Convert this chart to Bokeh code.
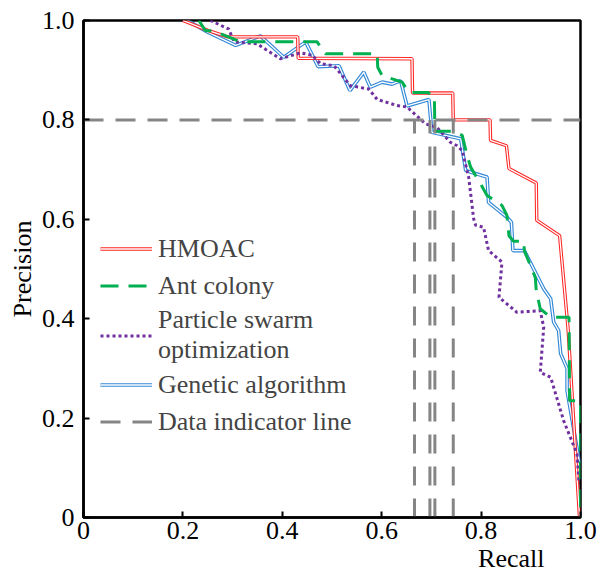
from bokeh.plotting import figure
from bokeh.models import Legend, LegendItem, Title, FixedTicker, Range1d
from bokeh.embed import file_html
from bokeh.resources import INLINE

# ---- data ----
hmoac_recall = [0.2, 0.25, 0.29, 0.431, 0.432, 0.661, 0.662, 0.743, 0.744, 0.818, 0.819,
                0.851, 0.856, 0.911, 0.912, 0.958, 0.975, 0.998]
hmoac_precision = [1.0, 0.98, 0.967, 0.967, 0.924, 0.923, 0.854, 0.854, 0.80, 0.80, 0.759,
                   0.748, 0.702, 0.673, 0.598, 0.567, 0.38, 0.0]

ant_recall = [0.232, 0.245, 0.265, 0.316, 0.47, 0.487, 0.591, 0.592, 0.601, 0.641, 0.655,
              0.693, 0.706, 0.707, 0.745, 0.762, 0.772, 0.779, 0.799, 0.812, 0.842, 0.852,
              0.856, 0.865, 0.886, 0.887, 0.909, 0.911, 0.919, 0.94, 0.977, 0.978, 1.0, 1.0]
ant_precision = [1.0, 0.98, 0.978, 0.957, 0.957, 0.933, 0.933, 0.906, 0.889, 0.876, 0.855,
                 0.855, 0.848, 0.777, 0.777, 0.769, 0.728, 0.705, 0.671, 0.648, 0.628, 0.608,
                 0.567, 0.556, 0.556, 0.537, 0.483, 0.457, 0.42, 0.403, 0.403, 0.235, 0.235, 0.0]

pso_recall = [0.255, 0.292, 0.303, 0.349, 0.396, 0.437, 0.46, 0.477, 0.504, 0.537, 0.574,
              0.591, 0.631, 0.651, 0.688, 0.711, 0.738, 0.752, 0.762, 0.775, 0.785, 0.789,
              0.805, 0.815, 0.842, 0.836, 0.872, 0.919, 0.926, 0.922, 0.919, 0.94, 0.966,
              0.993, 0.997]
pso_precision = [1.0, 0.983, 0.957, 0.953, 0.923, 0.935, 0.930, 0.913, 0.909, 0.869, 0.862,
                 0.841, 0.829, 0.826, 0.792, 0.785, 0.755, 0.748, 0.738, 0.685, 0.601, 0.588,
                 0.584, 0.537, 0.514, 0.443, 0.413, 0.416, 0.383, 0.33, 0.292, 0.282, 0.195,
                 0.128, 0.07]

ga_recall = [0.209, 0.249, 0.306, 0.356, 0.403, 0.447, 0.472, 0.514, 0.536, 0.564, 0.577,
             0.601, 0.621, 0.638, 0.651, 0.695, 0.701, 0.759, 0.769, 0.812, 0.815, 0.852,
             0.861, 0.864, 0.887, 0.926, 0.94, 0.946, 0.956, 0.96, 0.973, 0.973, 0.998]
ga_precision = [1.0, 0.977, 0.950, 0.969, 0.926, 0.957, 0.907, 0.909, 0.859, 0.896, 0.866,
                0.876, 0.872, 0.879, 0.828, 0.841, 0.775, 0.762, 0.698, 0.685, 0.634, 0.604,
                0.594, 0.537, 0.537, 0.46, 0.44, 0.393, 0.376, 0.33, 0.30, 0.255, 0.11]

threshold_precision = 0.8
indicator_recall = [0.666, 0.697, 0.707, 0.744]

x_ticks = [0, 0.2, 0.4, 0.6, 0.8, 1.0]
y_ticks = [0, 0.2, 0.4, 0.6, 0.8, 1.0]
x_title = "Recall"
y_title = "Precision"
legend_labels = ["HMOAC", "Ant colony", "Particle swarm\noptimization",
                 "Genetic algorithm", "Data indicator line"]

FONT = "'Liberation Serif', 'Times New Roman', 'DejaVu Serif', serif"
FS = "26px"
RED = "#FF2626"
BLUE = "#3388D6"
GREEN = "#00B050"
PURPLE = "#7030A0"
GRAY = "#858585"

p = figure(frame_width=497, frame_height=497, output_backend="svg", toolbar_location=None,
           x_range=Range1d(0, 1), y_range=Range1d(0, 1),
           min_border_left=83, min_border_right=18, min_border_top=20, min_border_bottom=0)

p.grid.visible = False
p.outline_line_color = "black"
p.outline_line_width = 2.5
p.background_fill_color = "white"
p.border_fill_color = "white"

for ax, ticks in ((p.xaxis[0], x_ticks), (p.yaxis[0], y_ticks)):
    ax.ticker = FixedTicker(ticks=ticks)
    ax.major_label_overrides = {0: "0", 1: "1.0"}
    ax.axis_line_width = 2.5
    ax.axis_line_color = "black"
    ax.major_tick_in = 6
    ax.major_tick_out = 0
    ax.major_tick_line_width = 2
    ax.minor_tick_line_color = None
    ax.major_label_text_font = FONT
    ax.major_label_text_font_size = FS
    ax.major_label_text_color = "black"
    ax.axis_label_text_font = FONT
    ax.axis_label_text_font_size = FS
    ax.axis_label_text_font_style = "normal"
    ax.axis_label_text_color = "black"

p.xaxis.major_label_standoff = 4
p.yaxis.major_label_standoff = 9
p.yaxis.axis_label = y_title
p.yaxis.axis_label_standoff = 2

t = Title(text=x_title, align="right", offset=36, standoff=0, text_font=FONT,
          text_font_size=FS, text_font_style="normal", text_color="black")
p.add_layout(t, "below")

# curves
ga_o = p.line(ga_recall, ga_precision, line_color=BLUE, line_width=3.6)
ga_i = p.line(ga_recall, ga_precision, line_color="white", line_width=1.3)
hm_o = p.line(hmoac_recall, hmoac_precision, line_color=RED, line_width=3.4)
hm_i = p.line(hmoac_recall, hmoac_precision, line_color="white", line_width=1.3)
pso = p.line(pso_recall, pso_precision, line_color=PURPLE, line_width=3, line_dash="3 3")
ant = p.line(ant_recall, ant_precision, line_color=GREEN, line_width=3, line_dash="18 10")

ind_h = p.line([x_ticks[0], x_ticks[-1]], [threshold_precision, threshold_precision],
               line_color=GRAY, line_width=3, line_dash="20 12")
p.segment(x0=indicator_recall, y0=[0] * len(indicator_recall),
          x1=indicator_recall, y1=[threshold_precision] * len(indicator_recall),
          line_color=GRAY, line_width=3, line_dash="19 13")

legend = Legend(items=[
    LegendItem(label=legend_labels[0], renderers=[hm_o, hm_i]),
    LegendItem(label=legend_labels[1], renderers=[ant]),
    LegendItem(label=legend_labels[2], renderers=[pso]),
    LegendItem(label=legend_labels[3], renderers=[ga_o, ga_i]),
    LegendItem(label=legend_labels[4], renderers=[ind_h]),
], location=(17, 78), label_text_font=FONT, label_text_font_size=FS,
    glyph_width=52, glyph_height=35, label_height=35, spacing=2, padding=0, margin=0,
    label_standoff=6, background_fill_alpha=0, border_line_alpha=0)
p.add_layout(legend)

open("out.html", "w").write(file_html(p, INLINE))
